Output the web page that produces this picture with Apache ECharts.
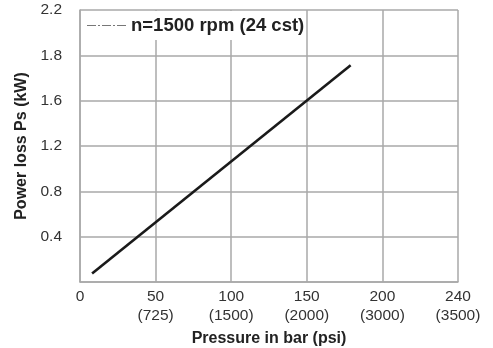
<!DOCTYPE html>
<html>
<head>
<meta charset="utf-8">
<script src="https://cdn.jsdelivr.net/npm/echarts@6/dist/echarts.min.js"></script>
<style>
  html, body { margin: 0; padding: 0; background: #fff; }
  #chart { width: 493px; height: 348px; }
</style>
</head>
<body>
<div id="chart"></div>
<script>
// tick labels (axis is evenly spaced between the printed values)
const barTicks = [0, 50, 100, 150, 200, 240];
const psiTicks = ["", "(725)", "(1500)", "(2000)", "(3000)", "(3500)"];
const kwTicks = [0, 0.4, 0.8, 1.2, 1.6, 1.8, 2.2];

// line end points
const pressure = [8, 179];
const powerLoss = [0.075, 1.756];

// place a value between the printed ticks
function toPos(v, ticks) {
  for (let i = 0; i < ticks.length - 1; i++) {
    if (v <= ticks[i + 1]) return i + (v - ticks[i]) / (ticks[i + 1] - ticks[i]);
  }
  return ticks.length - 1;
}

const chart = echarts.init(document.getElementById("chart"));
const gridColor = "#a8a8a8";
const font = "'Liberation Sans', Arial, sans-serif";
// dash-dot legend sample
const dashDot = "path://M0,0h9v1h-9zM11,0h2v1h-2zM15,0h9v1h-9zM26,0h2v1h-2zM30,0h9v1h-9z";

chart.setOption({
  animation: false,
  backgroundColor: "#fff",
  textStyle: { fontFamily: font },
  grid: { left: 80, right: 35, top: 10, bottom: 66, outerBoundsMode: "none" },
  legend: {
    left: 81,
    top: 11,
    padding: [5, 0, 5, 6],
    backgroundColor: "#fff",
    itemWidth: 39,
    itemHeight: 1.2,
    icon: dashDot,
    itemStyle: { color: "#777", borderWidth: 0 },
    textStyle: { fontSize: 18.5, fontWeight: "bold", color: "#222", fontFamily: font },
    data: ["n=1500 rpm (24 cst)"]
  },
  xAxis: {
    type: "value",
    min: 0,
    max: barTicks.length - 1,
    interval: 1,
    name: "Pressure in bar (psi)",
    nameLocation: "middle",
    nameGap: 49,
    nameTextStyle: { fontSize: 16, fontWeight: "bold", color: "#222" },
    axisLine: { lineStyle: { color: gridColor, width: 1.5 } },
    axisTick: { show: false },
    splitLine: { show: true, lineStyle: { color: gridColor, width: 1.5 } },
    axisLabel: {
      fontSize: 15.5,
      color: "#333",
      margin: 5,
      lineHeight: 19,
      formatter: (v) => barTicks[v] + "\n" + (psiTicks[v] || " ")
    }
  },
  yAxis: {
    type: "value",
    min: 0,
    max: kwTicks.length - 1,
    interval: 1,
    name: "Power loss Ps (kW)",
    nameLocation: "middle",
    nameGap: 49,
    nameTextStyle: { fontSize: 16, fontWeight: "bold", color: "#222" },
    axisLine: { show: true, lineStyle: { color: gridColor, width: 1.5 } },
    axisTick: { show: false },
    splitLine: { show: true, lineStyle: { color: gridColor, width: 1.5 } },
    axisLabel: {
      fontSize: 15.5,
      color: "#333",
      margin: 18,
      padding: [5, 0, 0, 0],
      formatter: (v) => (v === 0 ? "" : kwTicks[v].toFixed(1))
    }
  },
  series: [
    {
      name: "n=1500 rpm (24 cst)",
      type: "line",
      symbol: "none",
      lineStyle: { color: "#1a1a1a", width: 2.6 },
      data: pressure.map((p, i) => [toPos(p, barTicks), toPos(powerLoss[i], kwTicks)])
    }
  ]
});
</script>
</body>
</html>
